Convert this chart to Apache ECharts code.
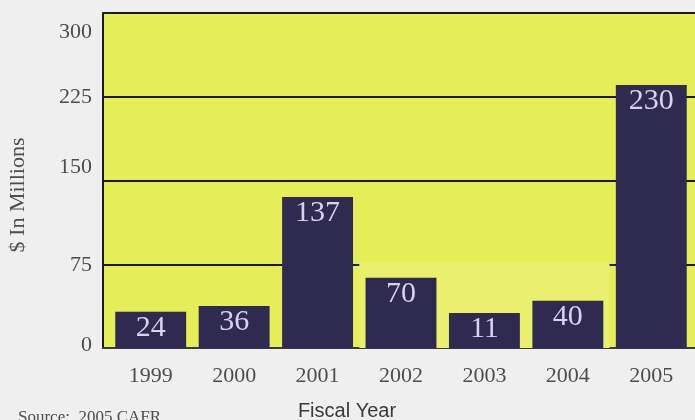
<!DOCTYPE html>
<html>
<head>
<meta charset="utf-8">
<script src="https://cdn.jsdelivr.net/npm/echarts@6/dist/echarts.min.js"></script>
<style>
html,body{margin:0;padding:0;background:#efefef;}
#chart{width:695px;height:420px;}
</style>
</head>
<body>
<div id="chart"></div>
<script>
// Data
const years = ['1999','2000','2001','2002','2003','2004','2005'];
const barValues = [32.5, 37.6, 135.2, 63, 31.3, 42.4, 235.5];   // bar heights as drawn
const barLabels = ['24','36','137','70','11','40','230'];        // numbers printed on bars
const yTicks = [0, 75, 150, 225, 300];
const patchFrom = '2002', patchTo = '2004', patchTop = 77;     // pale patch over the 75 line

const yLabelShift = {0: -3, 75: 1, 150: -13.5, 225: 0, 300: 19};

const serif = 'Liberation Serif';
const chart = echarts.init(document.getElementById('chart'), null, {renderer: 'canvas'});

const rich = {};
yTicks.forEach(v => {
  const d = yLabelShift[v] || 0;
  rich['t' + v] = {
    fontFamily: serif, fontSize: 22, color: '#4d4d4d',
    padding: d >= 0 ? [2 * d, 0, 0, 0] : [0, 0, -2 * d, 0]
  };
});

chart.setOption({
  backgroundColor: '#efefef',
  animation: false,
  grid: [
    {left: 103, right: 0, top: 13, bottom: 72, show: true, backgroundColor: '#e6ee57', borderWidth: 0},
    {left: 109, right: 2, top: 13, bottom: 72}
  ],
  xAxis: [
    {gridIndex: 0, type: 'category', data: years,
     axisLine: {show: true, lineStyle: {color: '#3a3552', width: 2}},
     axisTick: {show: false}, axisLabel: {show: false}, splitLine: {show: false}},
    {gridIndex: 1, type: 'category', data: years,
     axisLine: {show: false}, axisTick: {show: false},
     axisLabel: {fontFamily: serif, fontSize: 22, color: '#4d4d4d', margin: 17}}
  ],
  yAxis: [
    {gridIndex: 0, type: 'value', min: 0, max: 300, interval: 75,
     axisLine: {show: true, lineStyle: {color: '#1a1a1a', width: 2}},
     axisTick: {show: false},
     axisLabel: {margin: 11, formatter: v => '{t' + v + '|' + v + '}', rich: rich},
     splitLine: {show: true, lineStyle: {color: '#1a1a1a', width: 2}}},
    {gridIndex: 1, type: 'value', min: 0, max: 300, show: false, splitLine: {show: false}}
  ],
  series: [{
    type: 'bar', xAxisIndex: 1, yAxisIndex: 1,
    data: barValues,
    barCategoryGap: '15%',
    itemStyle: {color: '#2f2a50'},
    label: {
      show: true, position: 'insideTop', distance: 1,
      formatter: p => barLabels[p.dataIndex],
      fontFamily: serif, fontSize: 30, color: '#d8d1ef'
    },
    markArea: {
      silent: true,
      itemStyle: {color: '#e8f06c'},
      data: [[{xAxis: patchFrom, yAxis: 0}, {xAxis: patchTo, yAxis: patchTop}]]
    }
  }],
  graphic: [
    {type: 'text', x: 18.5, y: 195, rotation: Math.PI / 2,
     style: {text: '$ In Millions', fontFamily: serif, fontSize: 22, fill: '#4d4d4d',
             textAlign: 'center', textVerticalAlign: 'middle'}},
    {type: 'text', x: 347, y: 411,
     style: {text: 'Fiscal Year', fontFamily: 'Liberation Sans', fontSize: 20, fill: '#3a3a3a',
             textAlign: 'center', textVerticalAlign: 'middle'}},
    {type: 'text', x: 18, y: 418,
     style: {text: 'Source:  2005 CAFR', fontFamily: serif, fontSize: 17, fill: '#4d4d4d',
             textAlign: 'left', textVerticalAlign: 'middle'}}
  ]
});
</script>
</body>
</html>
